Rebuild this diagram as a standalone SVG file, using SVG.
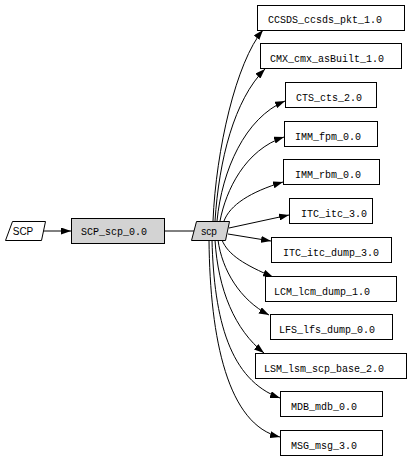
<svg xmlns="http://www.w3.org/2000/svg" width="413" height="460" viewBox="0 0 413 460">
<style>
.box{fill:#fff;stroke:#000;stroke-width:1}
.gray{fill:#d3d3d3;stroke:#000;stroke-width:1}
.t{font-family:"Liberation Mono","DejaVu Sans Mono",monospace;font-size:10px;fill:#000}
.s{font-family:"Liberation Sans",Arial,sans-serif;font-size:10px;fill:#000;text-anchor:middle}
.e{fill:none;stroke:#000;stroke-width:1}
</style>
<defs>
<marker id="ah" markerWidth="10" markerHeight="7" refX="10" refY="3.5" orient="auto" markerUnits="userSpaceOnUse">
<path d="M0,0 L10,3.5 L0,7 z" fill="#000"/>
</marker>
</defs>
<rect width="413" height="460" fill="#fff"/>
<g id="connectors">
<path class="e" d="M42,231 L71,231" marker-end="url(#ah)"/>
<path class="e" d="M164,231 L194,231"/>
<path class="e" d="M213,221 C216,150 236,62 263,30" marker-end="url(#ah)"/>
<path class="e" d="M215,221 C219,160 234,100 265,69" marker-end="url(#ah)"/>
<path class="e" d="M217,221 C222,170 245,118 285,101" marker-end="url(#ah)"/>
<path class="e" d="M220,221 C226,190 245,150 284,137" marker-end="url(#ah)"/>
<path class="e" d="M224,221 C230,205 250,192 283,182" marker-end="url(#ah)"/>
<path class="e" d="M229,228 L289,215" marker-end="url(#ah)"/>
<path class="e" d="M228,234 L271,241" marker-end="url(#ah)"/>
<path class="e" d="M222,240 C228,255 245,265 273,277" marker-end="url(#ah)"/>
<path class="e" d="M218,240 C222,270 240,300 269,315" marker-end="url(#ah)"/>
<path class="e" d="M215,240 C218,290 235,330 264,353" marker-end="url(#ah)"/>
<path class="e" d="M212,240 C214,320 230,380 280,398" marker-end="url(#ah)"/>
<path class="e" d="M209,240 C210,340 228,425 280,437" marker-end="url(#ah)"/>
</g>
<g id="SCP"><polygon class="box" points="12.5,221.5 45.5,221.5 41.5,240.5 5.5,240.5"/><text class="s" x="23" y="235">SCP</text></g>
<g id="SCP_scp_0.0"><rect class="gray" x="71.5" y="218.5" width="93" height="25"/><text class="t" x="81" y="235">SCP_scp_0.0</text></g>
<g id="scp"><polygon class="gray" points="196.5,221.5 229.5,221.5 225.5,240.5 191.5,240.5"/><text class="s" x="209" y="235">scp</text></g>
<g id="CCSDS_ccsds_pkt_1.0"><rect class="box" x="257.5" y="5.5" width="147" height="25"/><text class="t" x="268" y="23">CCSDS_ccsds_pkt_1.0</text></g>
<g id="CMX_cmx_asBuilt_1.0"><rect class="box" x="260.5" y="43.5" width="141" height="25"/><text class="t" x="270" y="62">CMX_cmx_asBuilt_1.0</text></g>
<g id="CTS_cts_2.0"><rect class="box" x="285.5" y="82.5" width="91" height="25"/><text class="t" x="296" y="101">CTS_cts_2.0</text></g>
<g id="IMM_fpm_0.0"><rect class="box" x="284.5" y="121.5" width="93" height="25"/><text class="t" x="295" y="140">IMM_fpm_0.0</text></g>
<g id="IMM_rbm_0.0"><rect class="box" x="283.5" y="159.5" width="96" height="25"/><text class="t" x="295" y="178">IMM_rbm_0.0</text></g>
<g id="ITC_itc_3.0"><rect class="box" x="289.5" y="198.5" width="83" height="25"/><text class="t" x="301" y="217">ITC_itc_3.0</text></g>
<g id="ITC_itc_dump_3.0"><rect class="box" x="271.5" y="237.5" width="120" height="25"/><text class="t" x="283" y="256">ITC_itc_dump_3.0</text></g>
<g id="LCM_lcm_dump_1.0"><rect class="box" x="265.5" y="276.5" width="131" height="25"/><text class="t" x="274" y="295">LCM_lcm_dump_1.0</text></g>
<g id="LFS_lfs_dump_0.0"><rect class="box" x="270.5" y="314.5" width="122" height="25"/><text class="t" x="279" y="333">LFS_lfs_dump_0.0</text></g>
<g id="LSM_lsm_scp_base_2.0"><rect class="box" x="255.5" y="353.5" width="151" height="25"/><text class="t" x="264" y="372">LSM_lsm_scp_base_2.0</text></g>
<g id="MDB_mdb_0.0"><rect class="box" x="280.5" y="391.5" width="102" height="25"/><text class="t" x="291" y="410">MDB_mdb_0.0</text></g>
<g id="MSG_msg_3.0"><rect class="box" x="280.5" y="430.5" width="102" height="25"/><text class="t" x="291" y="449">MSG_msg_3.0</text></g>
</svg>
